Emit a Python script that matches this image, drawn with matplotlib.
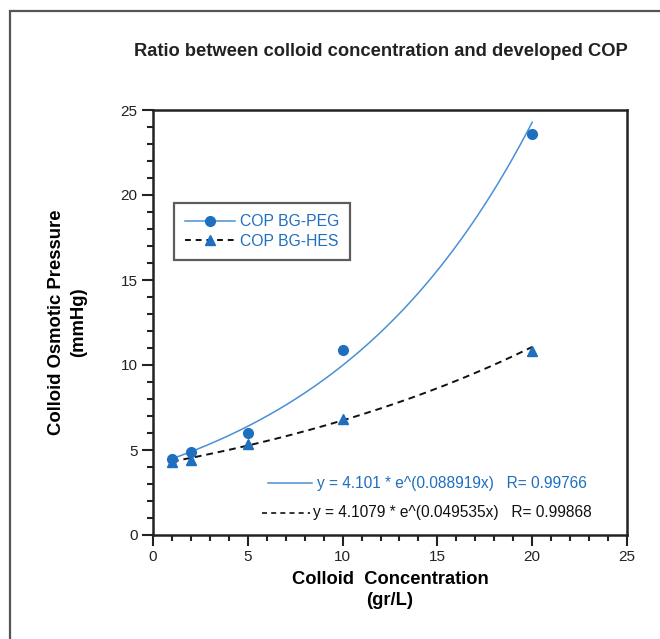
import matplotlib
matplotlib.use("Agg")
import matplotlib.pyplot as plt
from matplotlib.lines import Line2D
from matplotlib.patches import Rectangle
import numpy as np

# colloid concentration (gr/L) and measured COP (mmHg)
conc = [1, 2, 5, 10, 20]
cop_peg = [4.5, 4.9, 6.0, 10.9, 23.6]
cop_hes = [4.3, 4.4, 5.35, 6.8, 10.85]
# exponential fits shown on the chart: y = a * e^(b x)
fit_peg = (4.101, 0.088919, 0.99766)
fit_hes = (4.1079, 0.049535, 0.99868)

BLUE = "#1f6fbf"; FITBLUE = "#4a8fd6"; INK = "#222222"
plt.rcParams.update({"font.family": ["Liberation Sans", "DejaVu Sans"], "text.color": INK,
                     "xtick.color": INK, "ytick.color": INK})

fig = plt.figure(figsize=(6.6, 6.39), dpi=100)
ax = fig.add_axes([153/660, 1-535/639, (627-153)/660, (535-110)/639])

# outer frame of the figure (right/bottom run off the page)
fig.patches.append(Rectangle((9.5/660, -0.05), 1.2, 1-11/639+0.05, transform=fig.transFigure,
                             fill=False, ec="#555555", lw=1.6))

xf = np.linspace(1, 20, 200)
ax.plot(xf, fit_peg[0]*np.exp(fit_peg[1]*xf), color=FITBLUE, lw=1.1, zorder=2)
ax.plot(xf, fit_hes[0]*np.exp(fit_hes[1]*xf), color="#111111", lw=1.4, ls=(0, (3.5, 2.5)), zorder=2)
ax.plot(conc, cop_peg, "o", color=BLUE, ms=7, zorder=3)
ax.plot(conc, cop_hes, "^", color=BLUE, ms=7.5, zorder=3)

ax.set_xlim(0, 25); ax.set_ylim(0, 25)
ax.set_xticks(range(0, 26, 5)); ax.set_yticks(range(0, 26, 5))
ax.set_xticks(range(0, 26), minor=True); ax.set_yticks(range(0, 26), minor=True)
ax.tick_params(which="major", length=8, width=1.5, direction="out", labelsize=11, pad=3)
ax.tick_params(which="minor", length=4, width=1.5, direction="out")
for s in ax.spines.values():
    s.set_linewidth(1.8); s.set_color("#222222")

# legend
handles = [Line2D([], [], color=FITBLUE, lw=1.1, marker="o", ms=7, mfc=BLUE, mec=BLUE),
           Line2D([], [], color="#111111", lw=1.4, ls=(0, (3, 2.5)), marker="^", ms=7.5, mfc=BLUE, mec=BLUE)]
leg = ax.legend(handles, ["COP BG-PEG", "COP BG-HES"], loc="upper left", bbox_to_anchor=(0.044, 0.781),
                fontsize=11.3, frameon=True, fancybox=False, handlelength=3.2, handletextpad=0.3,
                borderpad=0.7, labelspacing=0.3, labelcolor=BLUE, borderaxespad=0)
leg.get_frame().set_edgecolor("#333333"); leg.get_frame().set_linewidth(1.6)

# fit equations
ax.plot([0.243, 0.335], [0.122, 0.122], transform=ax.transAxes, color=FITBLUE, lw=1.1, clip_on=False)
ax.text(0.347, 0.122, f"y = {fit_peg[0]} * e^({fit_peg[1]}x)   R= {fit_peg[2]}", transform=ax.transAxes,
        color=BLUE, fontsize=11.2, va="center", ha="left")
ax.plot([0.23, 0.331], [0.052, 0.052], transform=ax.transAxes, color="#111111", lw=1.2,
        ls=(0, (3, 2.5)), clip_on=False)
ax.text(0.338, 0.052, f"y = {fit_hes[0]} * e^({fit_hes[1]}x)   R= {fit_hes[2]}", transform=ax.transAxes,
        color="#111111", fontsize=11.2, va="center", ha="left")

fig.text(381/660, 1-52/639, "Ratio between colloid concentration and developed COP",
         fontsize=13.2, fontweight="bold", ha="center", va="center")
ax.set_xlabel("Colloid  Concentration\n(gr/L)", fontsize=13.2, fontweight="bold", labelpad=5, linespacing=1.3)
ax.set_ylabel("Colloid Osmotic Pressure\n(mmHg)", fontsize=13.3, fontweight="bold", labelpad=24, linespacing=1.4)

fig.savefig("out.png", facecolor="white")
